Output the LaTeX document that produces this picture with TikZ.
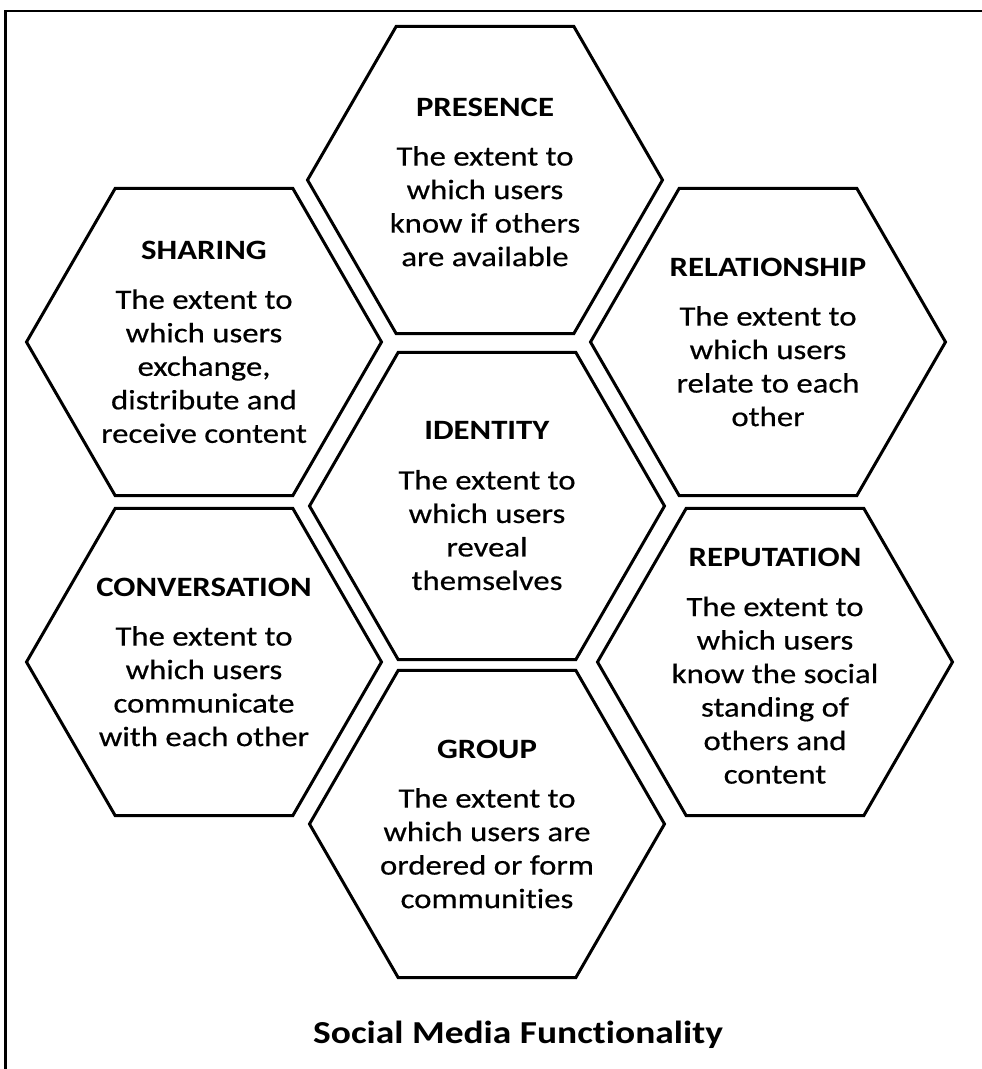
\documentclass[tikz,border=0pt]{standalone}
\usepackage{fontspec}
\setmainfont{Carlito}
\newfontfamily\hexfont{Carlito}[FakeStretch=1.17, RawFeature=-liga,
  UprightFeatures={FakeBold=0.5}]
\usetikzlibrary{shapes.geometric}
\begin{document}
\begin{tikzpicture}[x=1pt,y=-1pt,
  hexa/.style={draw=black, line width=3pt, regular polygon, regular polygon sides=6,
    minimum size=355pt, inner sep=0pt, outer sep=0pt},
  hextext/.style={align=center, inner sep=0pt, text=black,
    font=\hexfont\fontsize{28}{33.5}\selectfont},
  caption/.style={inner sep=0pt, font=\hexfont\bfseries\fontsize{32}{36}\selectfont}]
\useasboundingbox (0,0) rectangle (982,1069);
% frame (top and left sides only)
\draw[line width=2.5pt] (5.7,1069) -- (5.7,11) -- (982,11);
% hexagons
\node[hexa] (pres) at (485,180) {};
\node[hexa] (shar) at (204,342) {};
\node[hexa] (rel)  at (768,342) {};
\node[hexa] (iden) at (487,506) {};
\node[hexa] (conv) at (204,662) {};
\node[hexa] (rep)  at (775,662) {};
\node[hexa] (grp)  at (487,824) {};
% texts
\node[hextext] (presT) at ([yshift=-2pt]pres) {\textbf{PRESENCE}\\[16pt]The extent to\\which users\\know if others\\are available};
\node[hextext] (sharT) at (shar) {\textbf{SHARING}\\[16pt]The extent to\\which users\\exchange,\\distribute and\\receive content};
\node[hextext] (relT) at (rel) {\textbf{RELATIONSHIP}\\[16pt]The extent to\\which users\\relate to each\\other};
\node[hextext] (idenT) at (iden) {\textbf{IDENTITY}\\[16pt]The extent to\\which users\\reveal\\themselves};
\node[hextext] (convT) at (conv) {\textbf{CONVERSATION}\\[16pt]The extent to\\which users\\communicate\\with each other};
\node[hextext] (repT) at ([yshift=-4pt]rep) {\textbf{REPUTATION}\\[16pt]The extent to\\which users\\know the social\\standing of\\others and\\content};
\node[hextext] (grpT) at (grp) {\textbf{GROUP}\\[16pt]The extent to\\which users are\\ordered or form\\communities};
% caption
\node[caption] (cap) at (518,1035) {Social Media Functionality};
\end{tikzpicture}
\end{document}
